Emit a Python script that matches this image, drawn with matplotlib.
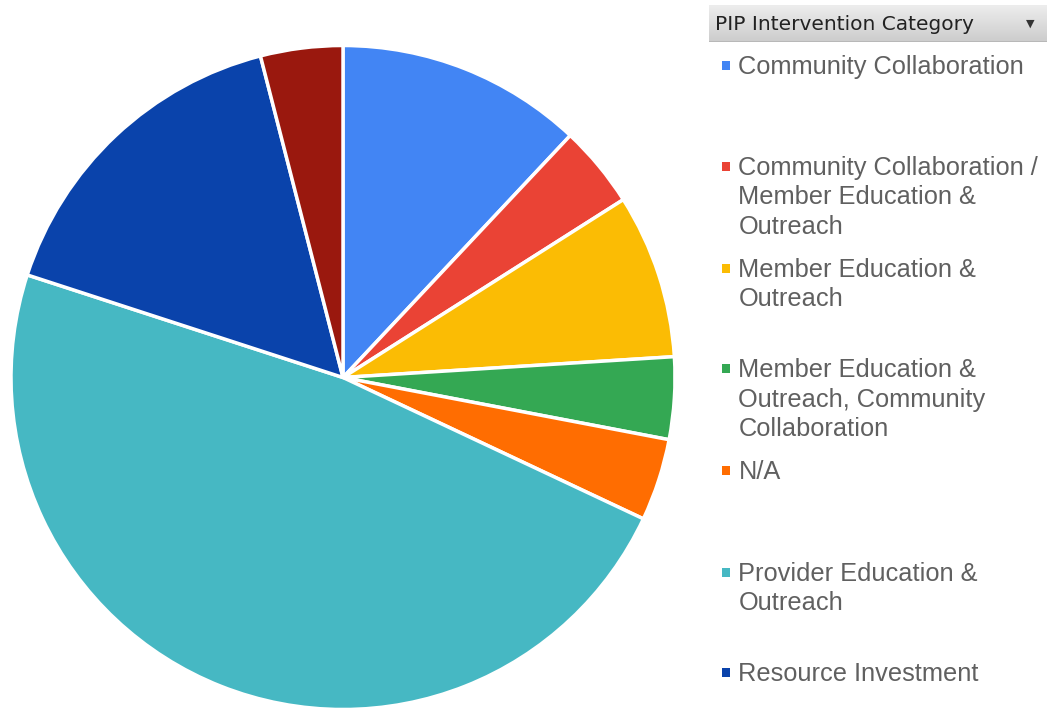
import matplotlib
matplotlib.use("Agg")
import matplotlib.pyplot as plt
import numpy as np
from matplotlib.patches import Rectangle

labels = [
    "Community Collaboration",
    "Community Collaboration /\nMember Education &\nOutreach",
    "Member Education &\nOutreach",
    "Member Education &\nOutreach, Community\nCollaboration",
    "N/A",
    "Provider Education &\nOutreach",
    "Resource Investment",
    "Other",
]
values = [3, 1, 2, 1, 1, 12, 4, 1]
colors = ["#4285F4", "#EA4335", "#FBBC04", "#34A853", "#FF6D01",
          "#46B8C3", "#0A43AB", "#9A180E"]
legend_title = "PIP Intervention Category"
n_legend_shown = 7

W, H = 1049, 710
fig = plt.figure(figsize=(W / 100, H / 100), dpi=100)
fig.patch.set_facecolor("white")

# pie
cx, cy, r = 343, 377.5, 332
ax = fig.add_axes([(cx - r) / W, (H - cy - r) / H, 2 * r / W, 2 * r / H])
ax.pie(values, colors=colors, startangle=90, counterclock=False, radius=1.0,
       wedgeprops=dict(edgecolor="white", linewidth=2.5))
ax.set_xlim(-1.0, 1.0)
ax.set_ylim(-1.0, 1.0)
ax.set_aspect("equal")
ax.axis("off")

# legend header with gradient
hx0, hx1, hy0, hy1 = 709, 1047, 5, 42
hax = fig.add_axes([hx0 / W, (H - hy1) / H, (hx1 - hx0) / W, (hy1 - hy0) / H])
grad = np.linspace(0.93, 0.80, 64).reshape(-1, 1)
hax.imshow(np.dstack([grad, grad, grad]), aspect="auto", extent=[0, 1, 0, 1])
hax.set_xlim(0, 1); hax.set_ylim(0, 1)
hax.axis("off")
hax.plot([0, 1], [0.01, 0.01], color="#b5b5b5", lw=1.2)
fig.text(715 / W, 1 - 24 / H, legend_title, fontsize=14.5, color="#222222",
         va="center", ha="left", family="DejaVu Sans")
fig.text(1030 / W, 1 - 24 / H, "▼", fontsize=8, color="#333333",
         va="center", ha="center", family="DejaVu Sans")

# legend entries
first_line_y = [65, 166, 268, 368, 470, 572, 672]
line_step = 29.5
for lab, col, yy in zip(labels[:n_legend_shown], colors[:n_legend_shown], first_line_y):
    fig.patches.append(Rectangle((721.5 / W, 1 - (yy + 4.5) / H), 8.5 / W, 8.5 / H,
                                 transform=fig.transFigure, facecolor=col,
                                 edgecolor="none"))
    for i, line in enumerate(lab.split("\n")):
        fig.text(738.5 / W, 1 - (yy + 9 + i * line_step) / H, line, fontsize=18.3,
                 color="#606060", va="baseline", ha="left",
                 family="Liberation Sans")

fig.savefig("out.png", dpi=100)
